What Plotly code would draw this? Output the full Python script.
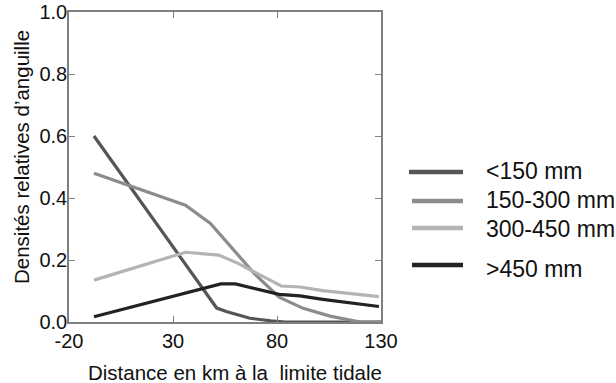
import plotly.graph_objects as go

# ---- data ----
series_names = ["<150 mm", "150-300 mm", "300-450 mm", ">450 mm"]

x_lt150 = [-8, 51, 56, 67, 77, 84, 130]
y_lt150 = [0.60, 0.045, 0.033, 0.012, 0.004, 0.0, 0.0]

x_150_300 = [-8, 36, 48, 59, 69, 81, 92.6, 105.5, 120, 130]
y_150_300 = [0.48, 0.377, 0.318, 0.232, 0.157, 0.08, 0.044, 0.019, 0.0, 0.0]

x_300_450 = [-8, 36, 52, 61, 82, 91, 102, 129]
y_300_450 = [0.135, 0.225, 0.216, 0.19, 0.116, 0.113, 0.101, 0.082]

x_gt450 = [-8, 36, 53, 60, 81, 91, 102, 129]
y_gt450 = [0.017, 0.093, 0.123, 0.123, 0.089, 0.084, 0.073, 0.05]

x_ticks = [-20, 30, 80, 130]
y_ticks = [0.0, 0.2, 0.4, 0.6, 0.8, 1.0]

colors = ["#555555", "#8c8c8c", "#b4b4b4", "#222222"]

xs = [x_lt150, x_150_300, x_300_450, x_gt450]
ys = [y_lt150, y_150_300, y_300_450, y_gt450]

FONT = "Liberation Sans, Arial, sans-serif"

fig = go.Figure()
for name, x, y, c in zip(series_names, xs, ys, colors):
    fig.add_trace(go.Scatter(x=x, y=y, mode="lines", name=name,
                             line=dict(color=c, width=3.2), showlegend=False))

# ---- manual legend (paper coords; plot area px: x 69..381, y 12..322) ----
def px_x(p):
    return (p - 69) / 312.0

def px_y(p):
    return (322 - p) / 310.0

leg_line_y = [172, 201, 228, 265]
leg_text_y = [171, 200, 228.5, 268.5]
leg_x0 = [409, 412, 412, 412]
for i, name in enumerate(series_names):
    fig.add_shape(type="line", xref="paper", yref="paper",
                  x0=px_x(leg_x0[i]), x1=px_x(463),
                  y0=px_y(leg_line_y[i]), y1=px_y(leg_line_y[i]),
                  line=dict(color=colors[i], width=4.5))
    fig.add_annotation(xref="paper", yref="paper", x=px_x(484), y=px_y(leg_text_y[i]),
                       xanchor="left", yanchor="middle", showarrow=False,
                       text=name, font=dict(family=FONT, size=23, color="#111111"))

# axis titles
fig.add_annotation(xref="paper", yref="paper", x=px_x(235), y=px_y(372),
                   xanchor="center", yanchor="middle", showarrow=False,
                   text="Distance en km à la  limite tidale",
                   font=dict(family=FONT, size=20.5, color="#111111"))
fig.add_annotation(xref="paper", yref="paper", x=px_x(21), y=px_y(157),
                   xanchor="center", yanchor="middle", showarrow=False, textangle=-90,
                   text="Densités relatives d’anguille",
                   font=dict(family=FONT, size=20.5, color="#111111"))

axis_common = dict(showgrid=False, zeroline=False, showline=True, linecolor="#808080",
                   linewidth=1.5, mirror="ticks", ticks="inside", ticklen=6,
                   tickwidth=1.2, tickcolor="#808080", automargin=False,
                   ticklabeloverflow="allow",
                   tickfont=dict(family=FONT, size=20, color="#111111"))

fig.update_layout(
    width=616, height=383,
    margin=dict(l=69, r=235, t=12, b=61),
    paper_bgcolor="white", plot_bgcolor="white",
    xaxis=dict(range=[-20, 130], tickvals=x_ticks, ticktext=[str(v) for v in x_ticks],
               ticklabelstandoff=0, **axis_common),
    yaxis=dict(range=[0, 1.0], tickvals=y_ticks, ticktext=[f"{v:.1f}" for v in y_ticks],
               ticklabelstandoff=-4, **axis_common),
)

fig.write_html("out.html", config={"displayModeBar": False},
               post_script="document.body.style.margin='0px';")
